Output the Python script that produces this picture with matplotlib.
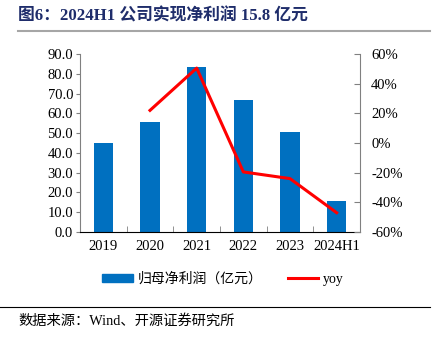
import matplotlib
matplotlib.use("Agg")
import matplotlib.pyplot as plt
from matplotlib.lines import Line2D
from matplotlib.patches import Patch

plt.rcParams['font.family'] = ['Liberation Serif', 'Noto Sans CJK SC']

# data
years = ['2019', '2020', '2021', '2022', '2023', '2024H1']
profit = [45.2, 55.6, 83.6, 66.9, 50.4, 15.8]
yoy = [None, 22.0, 50.5, -19.5, -24.0, -47.0]

blue = '#0070C0'
red = '#FF0000'

fig = plt.figure(figsize=(4.35, 3.37), dpi=100)
ax = fig.add_axes([80 / 435, 1 - 232 / 337, 280 / 435, 178 / 337])
x = list(range(len(years)))
ax.bar(x, profit, width=0.41, color=blue, zorder=2)
ax.set_xlim(-0.5, len(years) - 0.5)
ax.set_ylim(0, 90)
ax.set_yticks([i * 10 for i in range(10)])
ax.set_yticklabels([f'{i * 10:.1f}' for i in range(10)], fontsize=10.5)
ax.set_xticks(x)
ax.set_xticklabels(years, fontsize=10.5)
ax.tick_params(axis='x', length=0, pad=6)
ax.set_xticks([i + 0.5 for i in range(len(years) - 1)], minor=True)
ax.tick_params(axis='x', which='minor', direction='in', length=4, color='#808080')
ax.tick_params(axis='y', direction='out', length=3, color='#808080', pad=2)
for s in ['top', 'right']:
    ax.spines[s].set_visible(False)
ax.spines['left'].set_color('#808080')
ax.spines['bottom'].set_color('black')

ax2 = ax.twinx()
xs = [i for i, v in enumerate(yoy) if v is not None]
ys = [v for v in yoy if v is not None]
ax2.plot(xs, ys, color=red, lw=2.2, zorder=3)
ax2.set_ylim(-60, 60)
ax2.set_yticks(range(-60, 61, 20))
ax2.set_yticklabels([f'{v}%' for v in range(-60, 61, 20)], fontsize=10.5)
ax2.tick_params(axis='y', direction='in', length=4, color='#808080', pad=8)
for s in ['top', 'left', 'bottom']:
    ax2.spines[s].set_visible(False)
ax2.spines['right'].set_color('#808080')

handles = [Patch(color=blue), Line2D([0], [0], color=red, lw=2.2)]
fig.legend(handles, ['归母净利润（亿元）', 'yoy'], loc='center left', ncol=2,
           bbox_to_anchor=(90 / 435, 1 - 279 / 337), frameon=False,
           handlelength=2.2, handleheight=0.45, columnspacing=1.8, handletextpad=0.35,
           prop={'family': ['Liberation Serif', 'Noto Sans CJK SC'], 'size': 10})

fig.text(18 / 435, 1 - 16 / 337, '图6：2024H1 公司实现净利润 15.8 亿元', fontsize=12.1,
         fontweight='bold', color='#1F2D6B', va='center',
         family=['Liberation Serif', 'Noto Sans CJK SC'])
fig.add_artist(Line2D([18 / 435, 430 / 435], [1 - 31 / 337] * 2, color='#A6A6A6', lw=1.5))
fig.add_artist(Line2D([0, 430 / 435], [1 - 307 / 337] * 2, color='black', lw=0.8))
fig.text(18 / 435, 1 - 321 / 337, '数据来源：Wind、开源证券研究所', fontsize=10.3, va='center',
         family=['Liberation Serif', 'Noto Sans CJK SC'])

fig.savefig('out.png', dpi=100)
